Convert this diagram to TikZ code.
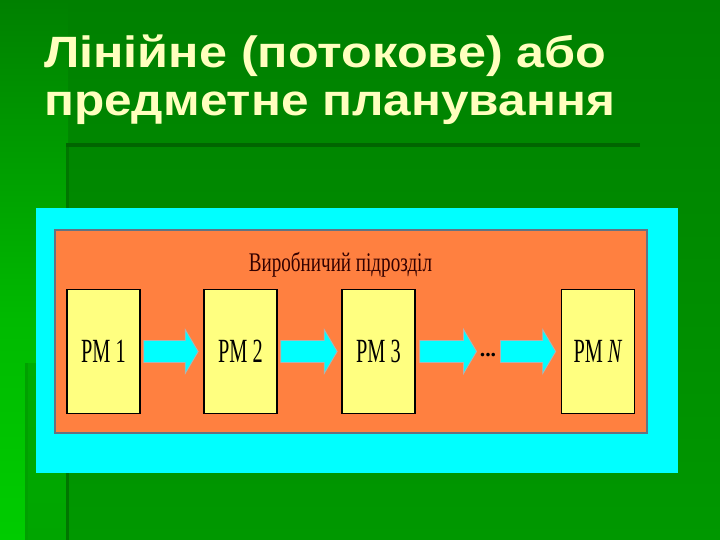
\documentclass[tikz,border=0pt]{standalone}
\usepackage{fontspec}
\setmainfont{Liberation Serif}
\newfontfamily\titlefont{Liberation Sans}
\usetikzlibrary{calc}
\definecolor{bgdark}{RGB}{0,128,0}
\definecolor{bgbottom}{RGB}{0,152,0}
\definecolor{stripmid}{RGB}{0,186,0}
\definecolor{stripbottom}{RGB}{0,204,0}
\definecolor{innertop}{RGB}{0,172,0}
\definecolor{innerbottom}{RGB}{0,165,0}
\definecolor{lineG}{RGB}{0,95,0}
\definecolor{titleY}{RGB}{255,255,190}
\definecolor{cyanbox}{RGB}{0,255,255}
\definecolor{orangebox}{RGB}{255,128,64}
\definecolor{orangeedge}{RGB}{100,115,130}
\definecolor{yellowbox}{RGB}{255,255,128}
\definecolor{darkred}{RGB}{50,0,0}
\tikzset{
  titletext/.style={anchor=base west, text=titleY, font=\titlefont\bfseries\fontsize{44}{50}\selectfont, inner sep=0pt},
  pmbox/.style={draw=black, line width=1.6bp, fill=yellowbox, minimum width=73bp, minimum height=124bp, inner sep=0pt, font=\fontsize{34}{40}\selectfont},
  barrow/.style={fill=cyanbox, draw=gray!60, line width=0.8bp},
}
\newcommand\blockarrow[2]{%
  \draw[barrow] ([shift={(0,-11)}]#1) -- ([shift={(-13,-11)}]#2) -- ([shift={(-13,-22)}]#2) -- (#2)
    -- ([shift={(-13,22)}]#2) -- ([shift={(-13,11)}]#2) -- ([shift={(0,11)}]#1) -- cycle;}
\newcommand\cond[1]{\scalebox{0.6}[1]{#1}}
\begin{document}
\begin{tikzpicture}[x=1bp,y=-1bp]
\useasboundingbox (0,0) rectangle (720,540);
% background
\shade[top color=bgdark, bottom color=bgbottom] (0,0) rectangle (720,540);
\shade[top color=bgdark, bottom color=stripmid] (0,0) rectangle (68,320);
\shade[top color=stripmid, bottom color=stripbottom] (0,320) rectangle (68,540);
\shade[top color=innertop, bottom color=innerbottom] (28,363) rectangle (68,540);
% decorative lines
\fill[lineG!80!bgdark] (66,143) rectangle (640,147);
\fill[lineG!60!bgbottom] (66,147) rectangle (69,540);
\fill[lineG!40!stripbottom] (25,363) rectangle (28,540);
% title
\node[titletext] (t1) at (44,68) {\scalebox{1.148}[1]{Лінійне (потокове) або}};
\node[titletext] (t2) at (44,116) {\scalebox{1.13}[1]{предметне планування}};
% frames
\fill[cyanbox] (36,208) rectangle (678,473);
\draw[fill=orangebox, draw=orangeedge, line width=1.5bp] (55,230) rectangle (647,433);
\node[text=darkred, font=\fontsize{27}{30}\selectfont, anchor=base, inner sep=0pt] (unit) at (340.5,272) {\scalebox{0.71}[1]{Виробничий підрозділ}};
% boxes
\node[pmbox] (pm1) at (103.5,351.5) {\cond{РМ 1}};
\node[pmbox] (pm2) at (240.5,351.5) {\cond{РМ 2}};
\node[pmbox] (pm3) at (378.5,351.5) {\cond{РМ 3}};
\node[pmbox] (pmN) at (598,351.5) {\cond{РМ \textit{N}}};
\node[font=\bfseries\fontsize{22}{24}\selectfont, anchor=base, inner sep=0pt] (dots) at (488,356) {...};
% arrow end points
\coordinate (a1s) at ([xshift=3]pm1.east);
\coordinate (a1e) at ([xshift=-5]pm2.west);
\coordinate (a2s) at ([xshift=3]pm2.east);
\coordinate (a2e) at ([xshift=-4]pm3.west);
\coordinate (a3s) at ([xshift=4]pm3.east);
\coordinate (a3e) at ([xshift=-3]dots.west |- pm3.east);
\coordinate (a4s) at ([xshift=4]dots.east |- pm3.east);
\coordinate (a4e) at ([xshift=-5]pmN.west);
% arrows
\blockarrow{a1s}{a1e}
\blockarrow{a2s}{a2e}
\blockarrow{a3s}{a3e}
\blockarrow{a4s}{a4e}
\end{tikzpicture}
\end{document}
